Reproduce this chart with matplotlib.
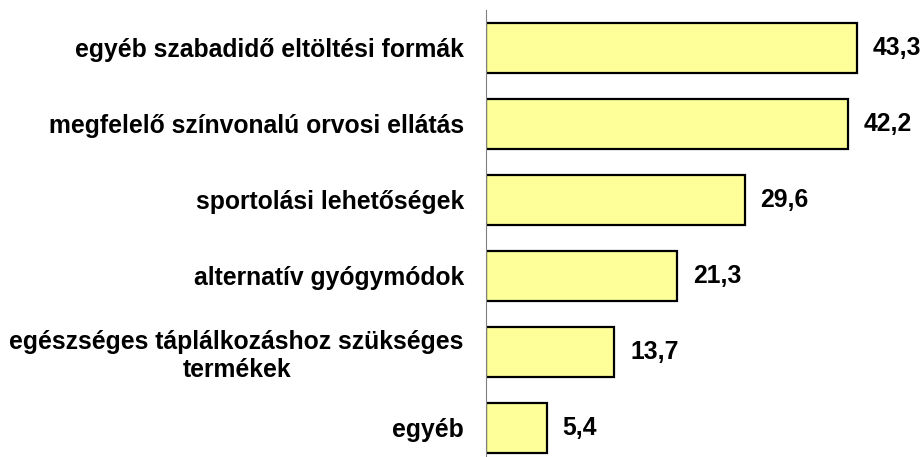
import matplotlib.pyplot as plt

categories = [
    "egyéb szabadidő eltöltési formák",
    "megfelelő színvonalú orvosi ellátás",
    "sportolási lehetőségek",
    "alternatív gyógymódok",
    "egészséges táplálkozáshoz szükséges\ntermékek",
    "egyéb",
]
values = [43.3, 42.2, 29.6, 21.3, 13.7, 5.4]
value_labels = ["43,3", "42,2", "29,6", "21,3", "13,7", "5,4"]

plt.rcParams['font.family'] = ['Liberation Sans', 'DejaVu Sans']

W, H = 923, 457
fig = plt.figure(figsize=(W / 100, H / 100), dpi=100)
# axis line at x=486px, plot area runs from y=10px to past the bottom edge
ax = fig.add_axes([486 / W, (H - 466) / H, (914 - 486) / W, 456 / H])

x_min = -2.0  # value axis does not start at zero, bars grow from its minimum
pos = list(range(len(categories)))
widths = [v - x_min for v in values]
ax.barh(pos, widths, left=x_min, height=0.666, color='#FFFF99',
        edgecolor='black', linewidth=1.6)
ax.set_xlim(x_min, 50.3)
ax.set_ylim(len(categories) - 0.5, -0.5)

for p, v, lab in zip(pos, values, value_labels):
    ax.annotate(lab, (v, p), xytext=(11.5, 0), textcoords='offset points',
                ha='left', va='center', fontsize=17.8, fontweight='bold')

ax.set_yticks(pos)
ax.set_yticklabels(categories, fontsize=17.8, fontweight='bold')
ax.tick_params(axis='y', length=0, pad=16)
for t in ax.get_yticklabels():
    t.set_multialignment('center')
ax.set_xticks([])
for s in ['top', 'right', 'bottom']:
    ax.spines[s].set_visible(False)
ax.spines['left'].set_color('#808080')
ax.spines['left'].set_linewidth(0.8)

plt.savefig('out.png', dpi=100)
